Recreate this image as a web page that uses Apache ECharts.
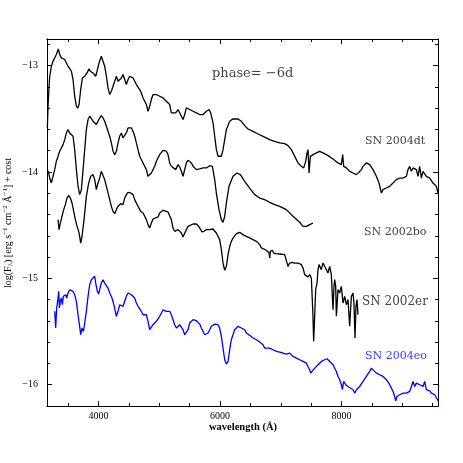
<!DOCTYPE html>
<html><head><meta charset="utf-8">
<script src="https://cdn.jsdelivr.net/npm/echarts@6/dist/echarts.min.js"></script>
<style>html,body{margin:0;padding:0;background:#fff}#c{width:463px;height:463px}</style>
</head><body><div id="c"></div>
<script>
// ---- axis ticks ----
const xMajorTicks = [4000, 6000, 8000];
const xMinorTicks = [3500, 4500, 5000, 5500, 6500, 7000, 7500, 8500, 9000, 9500];
const yMajorTicks = [-16, -15, -14, -13];
const yMinorTicks = [-15.8, -15.6, -15.4, -15.2, -14.8, -14.6, -14.4, -14.2, -13.8, -13.6, -13.4, -13.2, -12.8];

// ---- SN 2004dt ----
const dtWave = [3156,3167,3184,3195,3222,3249,3277,3304,3337,3359,3387,3414,3442,3469,3496,3524,3551,3579,3606,3634,3656,3678,3705,3733,3771,3809,3842,3864,3908,3952,3974,4007,4045,4073,4100,4128,4155,4183,4210,4238,4265,4293,4320,4347,4375,4402,4430,4457,4485,4512,4540,4567,4595,4622,4649,4677,4704,4732,4787,4814,4842,4869,4896,4924,4951,5006,5061,5116,5171,5198,5226,5270,5308,5336,5363,5391,5418,5445,5473,5500,5555,5610,5665,5720,5747,5775,5819,5846,5885,5912,5940,5967,5994,6022,6049,6077,6104,6159,6214,6296,6351,6406,6461,6543,6626,6708,6735,6818,6900,6983,7065,7120,7175,7230,7285,7339,7378,7411,7433,7449,7466,7488,7532,7587,7641,7696,7779,7861,7943,7998,8020,8037,8081,8136,8190,8245,8289,8328,8355,8410,8437,8465,8492,8520,8575,8619,8657,8685,8739,8794,8849,8904,8959,9014,9069,9096,9124,9151,9179,9234,9261,9288,9316,9343,9398,9453,9508,9563,9590];
const dtFlux = [-13.586,-13.382,-13.194,-13.100,-13.006,-12.959,-12.975,-12.896,-12.843,-12.896,-12.927,-12.912,-12.943,-12.975,-13.006,-13.022,-13.053,-13.131,-13.288,-13.382,-13.401,-13.366,-13.225,-13.116,-13.100,-13.069,-13.031,-13.053,-13.069,-13.100,-13.053,-12.975,-12.912,-12.927,-13.006,-13.100,-13.210,-13.272,-13.241,-13.194,-13.147,-13.100,-13.147,-13.163,-13.116,-13.084,-13.131,-13.178,-13.131,-13.100,-13.100,-13.116,-13.147,-13.178,-13.194,-13.225,-13.257,-13.304,-13.366,-13.429,-13.382,-13.319,-13.272,-13.257,-13.272,-13.288,-13.304,-13.335,-13.366,-13.445,-13.460,-13.445,-13.413,-13.429,-13.476,-13.507,-13.460,-13.398,-13.382,-13.413,-13.429,-13.445,-13.460,-13.460,-13.445,-13.429,-13.413,-13.445,-13.539,-13.664,-13.790,-13.852,-13.868,-13.852,-13.790,-13.696,-13.602,-13.523,-13.501,-13.502,-13.524,-13.564,-13.596,-13.618,-13.643,-13.665,-13.680,-13.696,-13.712,-13.727,-13.734,-13.752,-13.790,-13.853,-13.915,-13.947,-13.962,-13.900,-13.821,-13.790,-14.010,-13.853,-13.837,-13.821,-13.806,-13.821,-13.846,-13.878,-13.915,-13.931,-13.837,-13.947,-13.962,-13.994,-14.010,-14.025,-14.003,-13.978,-13.947,-13.915,-13.900,-13.931,-13.947,-13.978,-14.041,-14.104,-14.198,-14.166,-14.151,-14.135,-14.104,-14.072,-14.057,-14.057,-14.041,-13.978,-13.947,-13.994,-13.962,-13.978,-14.041,-13.947,-14.057,-13.994,-14.041,-14.057,-14.104,-14.135,-14.198];

// ---- SN 2002bo ----
const boWave = [3156,3178,3195,3222,3249,3277,3304,3332,3359,3387,3414,3442,3469,3496,3524,3551,3579,3606,3634,3661,3689,3716,3744,3771,3798,3826,3853,3881,3908,3936,3963,3991,4018,4045,4073,4100,4128,4155,4183,4210,4238,4265,4293,4320,4347,4375,4402,4430,4457,4485,4512,4540,4567,4595,4622,4649,4677,4704,4732,4787,4814,4842,4869,4896,4924,4951,5006,5061,5116,5143,5171,5198,5226,5270,5308,5336,5363,5391,5418,5445,5473,5500,5528,5555,5610,5665,5720,5775,5830,5874,5912,5939,5983,6022,6049,6077,6104,6148,6214,6280,6335,6406,6488,6571,6653,6735,6818,6900,6983,7092,7202,7312,7367,7422,7477,7532];
const boFlux = [-13.978,-14.009,-14.056,-14.103,-14.040,-13.978,-13.899,-13.852,-13.805,-13.774,-13.743,-13.696,-13.633,-13.602,-13.633,-13.617,-13.664,-13.790,-13.978,-14.134,-14.213,-14.166,-13.978,-13.790,-13.602,-13.507,-13.476,-13.492,-13.523,-13.539,-13.554,-13.539,-13.492,-13.470,-13.492,-13.523,-13.570,-13.617,-13.664,-13.727,-13.805,-13.837,-13.805,-13.727,-13.664,-13.633,-13.680,-13.696,-13.633,-13.586,-13.570,-13.586,-13.617,-13.664,-13.727,-13.790,-13.852,-13.868,-13.915,-13.978,-14.040,-14.056,-14.009,-13.978,-13.946,-13.899,-13.837,-13.796,-13.805,-13.837,-13.915,-13.946,-13.962,-13.978,-13.931,-13.953,-13.993,-14.040,-13.978,-13.915,-13.890,-13.899,-13.915,-13.946,-13.978,-13.971,-13.962,-13.962,-13.941,-13.947,-14.072,-14.198,-14.354,-14.448,-14.473,-14.417,-14.292,-14.135,-14.041,-14.010,-14.025,-14.088,-14.151,-14.213,-14.245,-14.260,-14.285,-14.307,-14.323,-14.354,-14.417,-14.473,-14.511,-14.511,-14.495,-14.480];

// ---- SN 2002er ----
const erWave = [3332,3348,3370,3397,3425,3452,3480,3507,3535,3562,3590,3617,3645,3672,3688,3705,3727,3760,3798,3837,3870,3908,3936,3963,3990,4018,4045,4073,4100,4128,4155,4183,4210,4237,4265,4292,4320,4364,4402,4430,4457,4485,4528,4567,4594,4649,4693,4732,4759,4786,4814,4841,4869,4896,4924,4979,5006,5034,5061,5088,5143,5171,5198,5226,5253,5281,5308,5335,5363,5390,5418,5445,5473,5500,5555,5610,5648,5681,5703,5736,5775,5830,5857,5884,5912,5939,5967,5994,6022,6049,6077,6104,6132,6159,6186,6214,6241,6269,6296,6324,6351,6378,6406,6433,6488,6543,6598,6653,6680,6708,6763,6807,6818,6828,6861,6883,6927,6982,7065,7092,7119,7147,7191,7229,7284,7339,7367,7394,7421,7449,7476,7504,7520,7531,7542,7559,7575,7597,7614,7630,7668,7696,7723,7751,7778,7806,7833,7861,7877,7888,7905,7916,7943,7970,7998,8025,8053,8080,8108,8135,8163,8190,8206,8223,8239,8256,8272];
const erFlux = [-14.448,-14.542,-14.480,-14.417,-14.354,-14.307,-14.244,-14.222,-14.244,-14.291,-14.370,-14.448,-14.511,-14.558,-14.605,-14.668,-14.605,-14.448,-14.229,-14.103,-14.041,-14.025,-14.072,-14.166,-14.103,-14.056,-13.994,-14.009,-14.072,-14.135,-14.197,-14.260,-14.323,-14.370,-14.392,-14.354,-14.323,-14.298,-14.307,-14.244,-14.213,-14.191,-14.197,-14.213,-14.260,-14.323,-14.370,-14.386,-14.417,-14.448,-14.495,-14.527,-14.480,-14.442,-14.433,-14.423,-14.386,-14.370,-14.360,-14.370,-14.376,-14.386,-14.448,-14.527,-14.558,-14.558,-14.542,-14.536,-14.574,-14.611,-14.605,-14.542,-14.511,-14.495,-14.489,-14.489,-14.511,-14.542,-14.564,-14.558,-14.542,-14.542,-14.527,-14.536,-14.542,-14.574,-14.589,-14.636,-14.730,-14.856,-14.925,-14.887,-14.777,-14.699,-14.652,-14.621,-14.605,-14.580,-14.574,-14.567,-14.580,-14.589,-14.605,-14.605,-14.620,-14.636,-14.652,-14.683,-14.714,-14.730,-14.736,-14.762,-14.809,-14.746,-14.736,-14.762,-14.768,-14.771,-14.777,-14.793,-14.887,-14.856,-14.849,-14.856,-14.856,-14.871,-14.903,-14.965,-14.981,-14.987,-14.965,-14.997,-15.012,-15.357,-15.592,-15.357,-15.106,-15.044,-14.918,-14.871,-14.918,-14.856,-14.887,-14.871,-14.950,-14.887,-14.965,-15.295,-15.075,-15.012,-15.075,-15.357,-15.106,-15.138,-15.075,-15.232,-15.169,-15.248,-15.200,-15.451,-15.169,-15.138,-15.232,-15.561,-15.263,-15.200,-15.341];

// ---- SN 2004eo ----
const eoWave = [3277,3293,3310,3332,3343,3354,3370,3387,3403,3419,3441,3458,3474,3496,3524,3551,3579,3606,3634,3661,3688,3705,3727,3749,3771,3798,3826,3853,3881,3908,3936,3952,3979,4001,4023,4045,4073,4100,4128,4155,4183,4210,4237,4265,4292,4320,4347,4375,4402,4430,4457,4485,4512,4539,4567,4594,4622,4649,4677,4704,4732,4759,4786,4814,4841,4869,4896,4924,4951,4979,5006,5034,5061,5088,5116,5143,5171,5198,5226,5253,5281,5308,5335,5363,5390,5418,5445,5473,5500,5528,5555,5583,5610,5637,5665,5692,5720,5747,5775,5802,5830,5857,5884,5912,5939,5967,5994,6022,6049,6077,6104,6132,6159,6186,6214,6241,6269,6296,6324,6351,6378,6406,6434,6489,6544,6599,6653,6708,6736,6763,6818,6873,6928,6983,7038,7093,7148,7175,7202,7257,7312,7367,7422,7449,7477,7493,7521,7559,7614,7669,7724,7762,7806,7861,7916,7944,7971,7998,8015,8037,8070,8108,8136,8191,8218,8246,8300,8355,8410,8465,8492,8520,8575,8630,8685,8712,8740,8767,8795,8822,8850,8877,8893,8915,8959,9014,9069,9124,9151,9179,9206,9234,9289,9344,9371,9398,9426,9453,9481,9508,9536,9563,9591];
const eoFlux = [-15.310,-15.467,-15.279,-15.185,-15.122,-15.279,-15.216,-15.185,-15.248,-15.169,-15.185,-15.154,-15.185,-15.138,-15.107,-15.097,-15.122,-15.154,-15.216,-15.342,-15.451,-15.530,-15.467,-15.499,-15.420,-15.310,-15.169,-15.060,-15.013,-14.997,-14.981,-15.044,-15.122,-15.147,-15.091,-15.044,-15.013,-15.044,-15.060,-15.091,-15.138,-15.169,-15.216,-15.279,-15.357,-15.310,-15.248,-15.232,-15.263,-15.216,-15.169,-15.138,-15.147,-15.154,-15.169,-15.185,-15.232,-15.263,-15.279,-15.310,-15.342,-15.357,-15.342,-15.404,-15.483,-15.467,-15.436,-15.420,-15.404,-15.389,-15.357,-15.326,-15.295,-15.285,-15.310,-15.295,-15.310,-15.342,-15.389,-15.436,-15.467,-15.451,-15.436,-15.451,-15.483,-15.530,-15.546,-15.483,-15.420,-15.404,-15.389,-15.389,-15.398,-15.404,-15.430,-15.467,-15.499,-15.530,-15.546,-15.514,-15.483,-15.451,-15.436,-15.430,-15.420,-15.436,-15.467,-15.546,-15.655,-15.765,-15.806,-15.781,-15.671,-15.577,-15.530,-15.483,-15.467,-15.451,-15.451,-15.467,-15.483,-15.483,-15.514,-15.536,-15.561,-15.577,-15.599,-15.624,-15.656,-15.665,-15.656,-15.671,-15.687,-15.693,-15.703,-15.712,-15.703,-15.718,-15.734,-15.750,-15.765,-15.781,-15.797,-15.828,-15.859,-15.891,-15.875,-15.844,-15.812,-15.781,-15.765,-15.756,-15.781,-15.812,-15.875,-15.922,-15.953,-16.000,-16.047,-15.969,-16.000,-16.016,-16.000,-16.047,-16.079,-16.047,-16.016,-15.969,-15.922,-15.875,-15.844,-15.859,-15.891,-15.906,-15.922,-15.922,-15.953,-15.969,-16.000,-16.032,-16.063,-16.110,-16.151,-16.110,-16.094,-16.079,-16.079,-16.063,-16.047,-15.969,-16.016,-15.985,-16.000,-16.016,-15.969,-16.047,-16.063,-16.057,-16.079,-16.088,-16.094,-16.110,-16.151];

const zip = (w, f) => w.map((v, i) => [v, f[i]]);
const minus = v => String(v).replace('-', '\u2212');
const plain = v => String(v);

const X_MIN = 3150, X_MAX = 9590, Y_MIN = -16.2, Y_MAX = -12.75;
const serif = 'Liberation Serif';

function xAx(pos, ticks, len, labels) {
  return {
    type: 'value', position: pos, min: X_MIN, max: X_MAX, gridIndex: 0,
    axisLine: { show: true, onZero: false, lineStyle: { color: '#000', width: 1 } },
    axisTick: { show: true, inside: true, length: len, customValues: ticks, lineStyle: { color: '#000' } },
    axisLabel: labels ? { show: true, customValues: ticks, margin: 5, fontFamily: serif, fontSize: 10, color: '#000', formatter: plain } : { show: false },
    splitLine: { show: false }
  };
}
function yAx(pos, ticks, len, labels) {
  return {
    type: 'value', position: pos, min: Y_MIN, max: Y_MAX, gridIndex: 0,
    axisLine: { show: true, onZero: false, lineStyle: { color: '#000', width: 1 } },
    axisTick: { show: true, inside: true, length: len, customValues: ticks, lineStyle: { color: '#000' } },
    axisLabel: labels ? { show: true, customValues: ticks, margin: 9, fontFamily: serif, fontSize: 10, color: '#000', formatter: minus } : { show: false },
    splitLine: { show: false }
  };
}

const chart = echarts.init(document.getElementById('c'), null, { renderer: 'canvas' });
const lineSeries = (name, w, f, color) => ({
  type: 'line', name, data: zip(w, f), xAxisIndex: 0, yAxisIndex: 0,
  showSymbol: false, symbol: 'none', smooth: false,
  lineStyle: { color, width: 1.3 }, itemStyle: { color }, silent: true, z: 3
});

chart.setOption({
  animation: false,
  backgroundColor: '#fff',
  grid: { left: 47, right: 25, top: 39, bottom: 57, containLabel: false },
  xAxis: [
    xAx('bottom', xMajorTicks, 5, true),
    xAx('bottom', xMinorTicks, 3, false),
    xAx('top', xMajorTicks, 5, false),
    xAx('top', xMinorTicks, 3, false)
  ],
  yAxis: [
    yAx('left', yMajorTicks, 5, true),
    yAx('left', yMinorTicks, 3, false),
    yAx('right', yMajorTicks, 5, false),
    yAx('right', yMinorTicks, 3, false)
  ],
  series: [
    lineSeries('SN 2004dt', dtWave, dtFlux, '#000'),
    lineSeries('SN 2002bo', boWave, boFlux, '#000'),
    lineSeries('SN 2002er', erWave, erFlux, '#000'),
    lineSeries('SN 2004eo', eoWave, eoFlux, '#0000ff')
  ],
  graphic: [
    { type: 'text', left: 212, top: 67, style: { text: 'phase= \u22126d', font: '13px "DejaVu Serif"', fill: '#444' } },
    { type: 'text', left: 365, top: 136, style: { text: 'SN 2004dt', font: '11px "DejaVu Serif"', fill: '#444' } },
    { type: 'text', left: 364, top: 227, style: { text: 'SN 2002bo', font: '11px "DejaVu Serif"', fill: '#444' } },
    { type: 'text', left: 362, top: 296, style: { text: 'SN 2002er', font: '12px "DejaVu Serif"', fill: '#444' } },
    { type: 'text', left: 365, top: 351, style: { text: 'SN 2004eo', font: '11px "DejaVu Serif"', fill: '#3c3cff' } },
    { type: 'text', x: 243, y: 427, style: { text: 'wavelength (\u00c5)', font: 'bold 10.5px "Liberation Serif"', fill: '#000', align: 'center', verticalAlign: 'middle' } },
    { type: 'text', x: 8, y: 223, rotation: Math.PI / 2,
      style: {
        text: '{a|log(F}{s|\u03bb}{a|) [erg s}{u|\u22121}{a| cm}{u|\u22122}{a| \u00c5}{u|\u22121}{a|] + cost}',
        align: 'center', verticalAlign: 'middle', fill: '#000',
        rich: {
          a: { fontFamily: serif, fontSize: 10, lineHeight: 12, verticalAlign: 'middle' },
          s: { fontFamily: serif, fontSize: 7, lineHeight: 12, verticalAlign: 'bottom' },
          u: { fontFamily: serif, fontSize: 7, lineHeight: 12, verticalAlign: 'top' }
        }
      } }
  ]
});
</script>
</body></html>
